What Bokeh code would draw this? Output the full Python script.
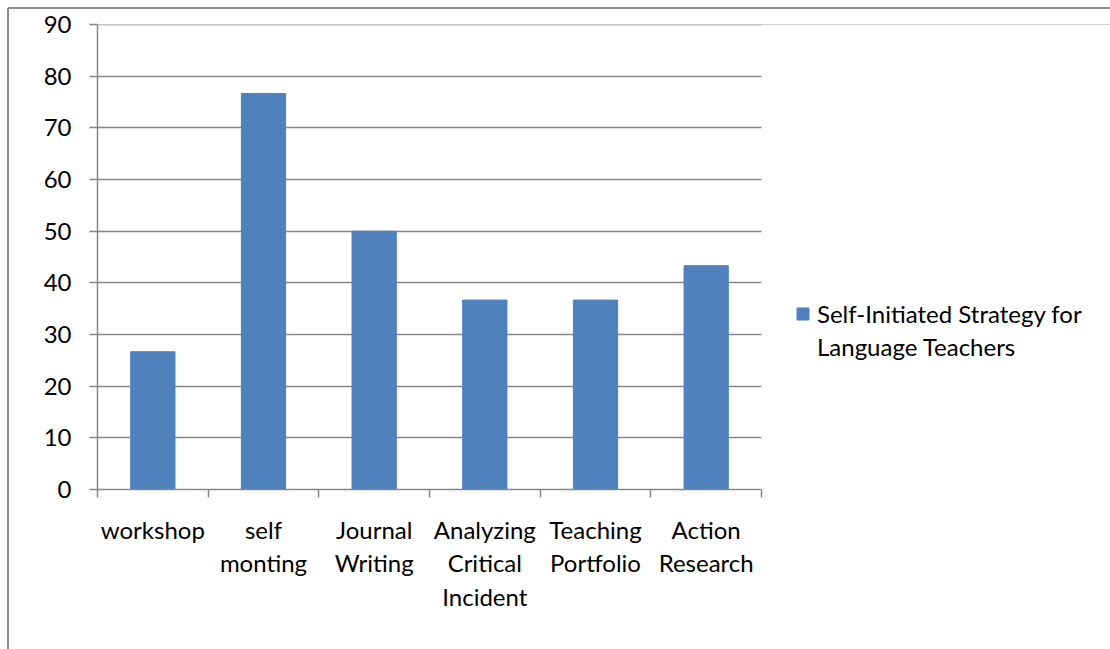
from bokeh.plotting import figure
from bokeh.models import Range1d, FixedTicker, Legend, LegendItem, BoxAnnotation
from bokeh.embed import file_html
from bokeh.resources import INLINE

# Share of teachers using each self-initiated development strategy (%)
categories = ["workshop", "self monting", "Journal Writing",
              "Analyzing Critical Incident", "Teaching Portfolio", "Action Research"]
tick_labels = ["workshop", "self\nmonting", "Journal\nWriting",
               "Analyzing\nCritical\nIncident", "Teaching\nPortfolio", "Action\nResearch"]
values = [26.67, 76.67, 50.0, 36.67, 36.67, 43.33]
y_ticks = [0, 10, 20, 30, 40, 50, 60, 70, 80, 90]
series_lines = ["Self-Initiated Strategy for", "Language Teachers"]

FONT = "Lato"
FS = "24px"
GRID = "#878787"
BAR = "#4F81BD"
FRAME_LINE = "#8c8c8c"

W, H = 1110, 649
LEFT, TOP, BOTTOM = 97, 24, 160
PLOT_W = 664                                # width of the bar area

n = len(categories)
centers = [i + 0.5 for i in range(n)]      # category slots on a 0..n axis
edges = list(range(n + 1))                  # slot boundaries
# the frame also hosts the legend to the right of the bar area
x_end = n * (W - LEFT) / PLOT_W

# a hair above the top tick so its gridline is still drawn
p = figure(width=W, height=H, x_range=Range1d(0, x_end),
           y_range=Range1d(0, y_ticks[-1] + 0.02), output_backend="svg",
           toolbar_location=None,
           min_border_left=LEFT, min_border_right=0, min_border_top=TOP,
           min_border_bottom=BOTTOM)
p.outline_line_color = None
p.background_fill_color = "white"
p.border_fill_alpha = 0
# thin grey chart-area border along the top and left edges
p.styles = {
    "background": (f"linear-gradient({FRAME_LINE},{FRAME_LINE}) 8px 7px / 100% 2px no-repeat, "
                   f"linear-gradient({FRAME_LINE},{FRAME_LINE}) 7px 8px / 2px 100% no-repeat, white"),
}

bars = p.vbar(x=centers, top=values, width=0.4, fill_color=BAR,
              line_color=BAR, line_width=1)

# y axis
p.yaxis.ticker = FixedTicker(ticks=y_ticks)
p.yaxis.axis_line_color = GRID
p.yaxis.axis_line_width = 1.5
p.yaxis.major_tick_line_color = GRID
p.yaxis.major_tick_line_width = 1.5
p.yaxis.major_tick_in = 0
p.yaxis.major_tick_out = 8
p.yaxis.minor_tick_line_color = None
p.yaxis.major_label_standoff = 18
p.yaxis.major_label_text_font = FONT
p.yaxis.major_label_text_font_size = FS
p.yaxis.major_label_text_color = "black"

p.ygrid.grid_line_color = GRID
p.ygrid.grid_line_width = 1.5
p.xgrid.grid_line_color = None

# x axis: labels at slot centres, tick marks at slot boundaries
xa = p.xaxis[0]
xa.bounds = (0, n)
xa.ticker = FixedTicker(ticks=centers, minor_ticks=edges)
xa.major_label_overrides = {c: lab for c, lab in zip(centers, tick_labels)}
xa.axis_line_color = GRID
xa.axis_line_width = 1.5
xa.major_tick_line_color = None
xa.major_tick_in = 0
xa.major_tick_out = 0
xa.minor_tick_line_color = GRID
xa.minor_tick_line_width = 1.5
xa.minor_tick_in = 0
xa.minor_tick_out = 8
xa.major_label_standoff = 17
xa.major_label_text_font = FONT
xa.major_label_text_font_size = FS
xa.major_label_text_color = "black"
xa.major_label_text_line_height = 1.16

# blank legend area: gridlines stop at the last category boundary
p.add_layout(BoxAnnotation(left=n, fill_color="white", fill_alpha=1,
                           line_color=None))

legend = Legend(items=[LegendItem(label=series_lines[0], renderers=[bars]),
                       LegendItem(label=series_lines[1], renderers=[])],
                location=(698, 128), padding=0, margin=0, spacing=4,
                border_line_color=None, background_fill_alpha=0,
                glyph_width=15, glyph_height=15, label_standoff=7,
                label_text_font=FONT, label_text_font_size=FS,
                label_text_color="black")
p.add_layout(legend)

open("out.html", "w").write(file_html(p, INLINE))
